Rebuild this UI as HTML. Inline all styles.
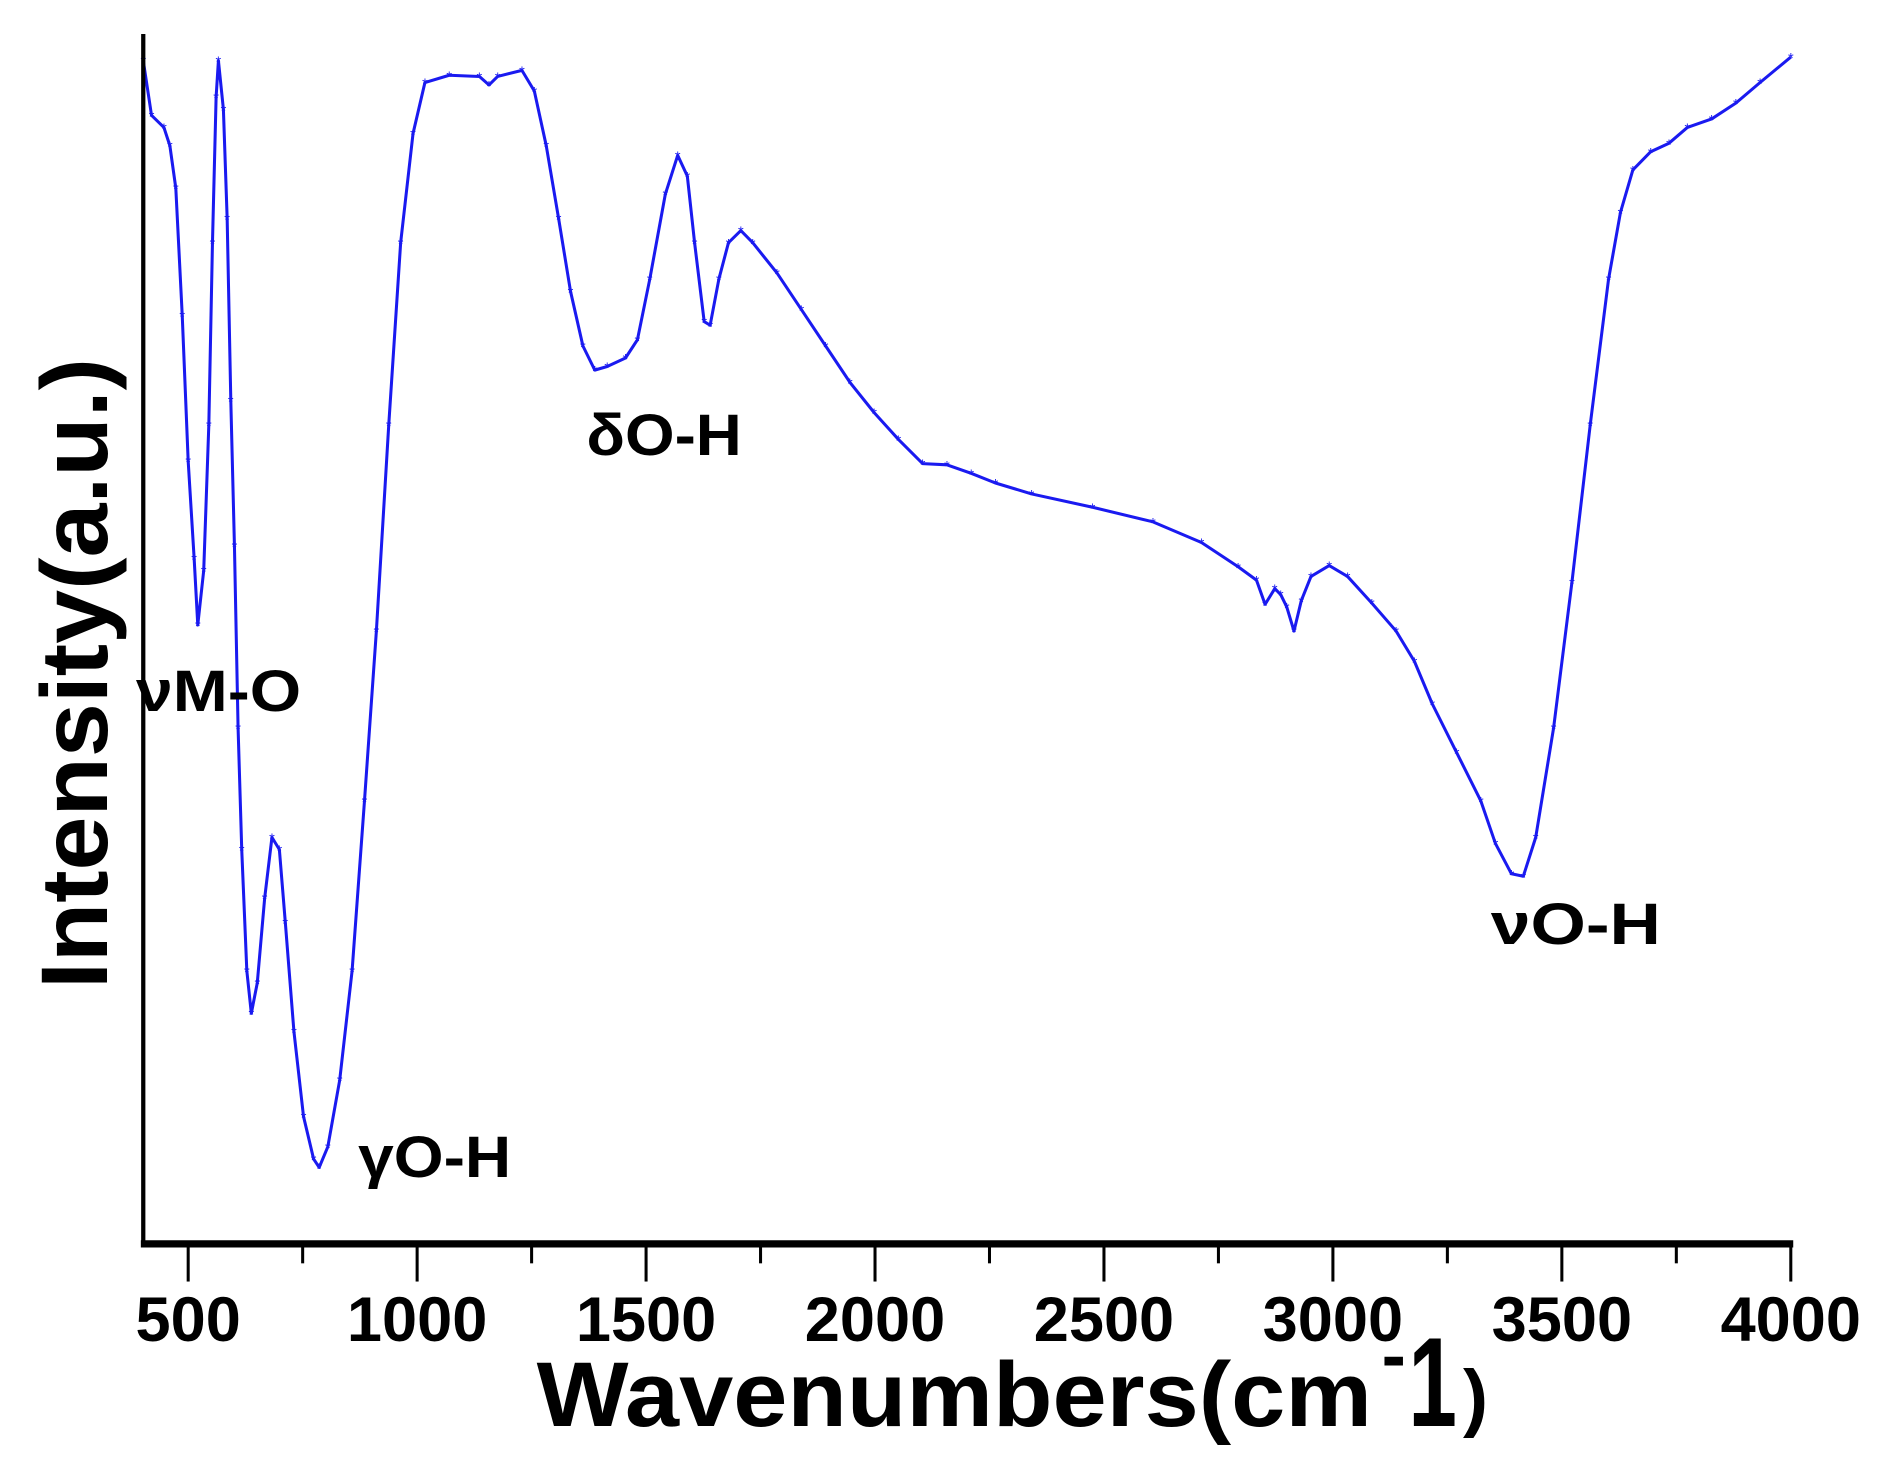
<!DOCTYPE html>
<html><head><meta charset="utf-8"><style>
html,body{margin:0;padding:0;background:#fff}
svg{display:block}
text{font-family:"Liberation Sans",Arial,sans-serif;font-weight:bold;fill:#000}
</style></head><body>
<svg id="chart" width="1894" height="1466" viewBox="0 0 1560 1208" preserveAspectRatio="none" xmlns="http://www.w3.org/2000/svg">
<rect x="0" y="0" width="1560" height="1208" fill="#fff"/>
<g id="plot"></g>
<line x1="118" y1="28" x2="118" y2="1025" stroke="#000" stroke-width="3.5"/>
<line x1="116" y1="1025" x2="1477" y2="1025" stroke="#000" stroke-width="6"/>
<g id="ticks"></g>
<text x="830" y="1175" text-anchor="end" font-size="76" textLength="688" lengthAdjust="spacingAndGlyphs" transform="translate(300,0)">Wavenumbers(cm</text>
<text x="1138" y="1137" font-size="60">-</text>
<text x="1160" y="1175" font-size="105" textLength="40" lengthAdjust="spacingAndGlyphs">1</text>
<text x="1205" y="1172" font-size="62">)</text>
<text transform="translate(88,555) rotate(-90)" text-anchor="middle" font-size="78" textLength="520" lengthAdjust="spacingAndGlyphs">Intensity(a.u.)</text>
<text x="112" y="586" font-size="48" textLength="136" lengthAdjust="spacingAndGlyphs">νM-O</text>
<text x="295" y="970" font-size="48" textLength="126" lengthAdjust="spacingAndGlyphs">γO-H</text>
<text x="483" y="375" font-size="48" textLength="128" lengthAdjust="spacingAndGlyphs">δO-H</text>
<text x="1228" y="778" font-size="48" textLength="140" lengthAdjust="spacingAndGlyphs">νO-H</text>
</svg>
<script>
const wavenumbers = [402,420,447,460,473,487,500,513,521,534,545,553,561,566,577,585,593,601,609,617,628,638,651,667,683,699,712,731,752,774,786,805,831,858,885,911,938,964,991,1017,1070,1136,1157,1176,1229,1256,1282,1309,1335,1362,1388,1415,1455,1481,1508,1542,1569,1590,1606,1627,1640,1659,1680,1707,1733,1786,1839,1892,1945,1998,2051,2104,2157,2210,2263,2342,2475,2607,2713,2793,2833,2852,2873,2886,2899,2915,2931,2952,2992,3032,3085,3138,3178,3217,3270,3323,3355,3390,3416,3443,3482,3522,3562,3602,3628,3655,3694,3734,3774,3827,3880,3933,4000];
const intensity = [975,930,920,905,870,765,645,565,510,555,675,825,945,975,935,845,695,575,425,325,225,190,215,285,335,325,265,175,105,70,63,80,135,225,365,505,675,825,915,957,963,962,955,962,967,950,905,845,785,740,720,723,730,745,795,865,897,880,825,760,757,795,825,835,825,800,770,740,710,685,663,643,642,635,627,618,607,595,578,558,547,527,540,535,525,505,530,550,559,550,528,505,480,445,405,365,330,305,303,335,425,545,675,795,850,885,900,907,920,927,940,957,978];
const majorTicks = [500,1000,1500,2000,2500,3000,3500,4000];
const minorTicks = [750,1250,1750,2250,2750,3250,3750];
const tickLabels = ["500","1000","1500","2000","2500","3000","3500","4000"];

const NS = "http://www.w3.org/2000/svg";
function xScale(w){ return 155 + (w - 500) * (1320 / 3500); }
function yScale(v){ return 1025 - v; }

const plot = document.getElementById('plot');
const pts = wavenumbers.map((w,i)=> xScale(w).toFixed(1)+','+yScale(intensity[i]).toFixed(1)).join(' ');
const line = document.createElementNS(NS,'polyline');
line.setAttribute('points', pts);
line.setAttribute('fill','none');
line.setAttribute('stroke','#1a1af0');
line.setAttribute('stroke-width','2.5');
line.setAttribute('stroke-linejoin','round');


plot.appendChild(line);

wavenumbers.forEach((w,i)=>{
  const t = document.createElementNS(NS,'text');
  t.setAttribute('x', xScale(w));
  t.setAttribute('y', yScale(intensity[i]) + 5);
  t.setAttribute('text-anchor','middle');
  t.setAttribute('font-size','12');
  t.setAttribute('style','fill:#1a1af0;font-weight:normal');
  t.textContent = '*';
  
  
  plot.appendChild(t);
});

const ticks = document.getElementById('ticks');
majorTicks.forEach((w,i)=>{
  const l = document.createElementNS(NS,'line');
  l.setAttribute('x1', xScale(w)); l.setAttribute('x2', xScale(w));
  l.setAttribute('y1', 1025); l.setAttribute('y2', 1056);
  l.setAttribute('stroke','#000'); l.setAttribute('stroke-width','2.5');
  
  
  ticks.appendChild(l);
  const t = document.createElementNS(NS,'text');
  t.setAttribute('x', xScale(w)); t.setAttribute('y', 1105);
  t.setAttribute('text-anchor','middle'); t.setAttribute('font-size','52');
  t.textContent = tickLabels[i];
  
  
  ticks.appendChild(t);
});
minorTicks.forEach(w=>{
  const l = document.createElementNS(NS,'line');
  l.setAttribute('x1', xScale(w)); l.setAttribute('x2', xScale(w));
  l.setAttribute('y1', 1025); l.setAttribute('y2', 1041);
  l.setAttribute('stroke','#000'); l.setAttribute('stroke-width','2.5');
  
  
  ticks.appendChild(l);
});
</script>
</body></html>
